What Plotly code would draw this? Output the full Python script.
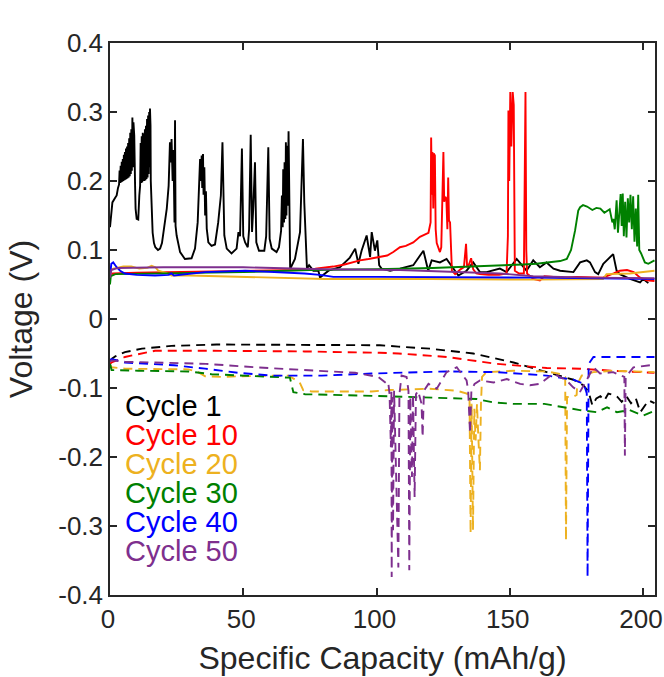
import plotly.graph_objects as go

# ---------------- data ----------------
cycles = ["Cycle 1", "Cycle 10", "Cycle 20", "Cycle 30", "Cycle 40", "Cycle 50"]
colors = ["#000000", "#FF0000", "#EDB120", "#008000", "#0000FF", "#7E2F8E"]

x_ticks = [0, 50, 100, 150, 200]
y_ticks = [-0.4, -0.3, -0.2, -0.1, 0, 0.1, 0.2, 0.3, 0.4]
y_tick_text = ["-0.4", "-0.3", "-0.2", "-0.1", "0", "0.1", "0.2", "0.3", "0.4"]

# Cycle 1 charge (solid)
c1_chg_x = [0, 0.4, 0.9, 2.0, 2.5, 3.0, 3.4, 3.6, 3.8, 4.0, 4.2, 4.4, 4.6, 4.8, 5.0, 5.2, 5.4, 5.6, 5.8,
            6.0, 6.2, 6.4, 6.6, 6.8, 7.0, 7.2, 7.4, 7.6, 7.8, 8.0, 8.2, 8.4, 8.6, 8.8, 9.1, 9.4, 9.6,
            10.0, 10.6, 11.0, 11.3, 11.5, 11.7, 11.9, 12.1, 12.3, 12.5, 12.7, 12.9, 13.1, 13.3, 13.5,
            13.7, 13.9, 14.1, 14.3, 14.5, 14.7, 14.9, 15.0, 15.2, 15.3, 15.5, 16.0, 16.5, 17.0, 18.0,
            18.8, 19.5, 20.3, 21.0, 21.3, 22.0, 22.5, 22.8, 23.1, 23.5, 23.8, 24.2, 24.4, 24.6, 25.0,
            26.3, 28.1, 30.6, 31.9, 32.9, 33.4, 33.8, 34.1, 34.4, 34.6, 34.9, 35.1, 35.4, 35.7, 36.0,
            36.3, 36.9, 38.1, 39.4, 40.6, 41.6, 42.2, 42.5, 42.9, 43.8, 45.6, 47.5, 48.2, 48.8, 49.5,
            50.0, 50.7, 51.7, 52.2, 52.8, 53.3, 53.8, 54.4, 54.9, 55.9, 57.9, 58.6, 59.4, 59.9, 60.7,
            62.5, 63.4, 64.2, 64.5, 64.8, 65.0, 65.3, 65.5, 65.8, 66.0, 66.2, 66.5, 66.7, 67.0, 67.3,
            67.6, 67.9, 69.4, 71.3, 71.9, 72.4, 72.9, 73.4, 73.9, 74.7, 76.3, 78.2, 78.8, 82.0, 86.3,
            90.0, 92.0, 93.2, 94.4, 96.3, 97.6, 98.2, 99.4, 100.3, 101.0, 101.9, 105.1, 108.8, 113.8,
            117.6, 119.4, 120.7, 123.8, 126.3, 128.8, 130.7, 133.8, 136.3, 138.8, 141.3, 146.3, 148.8,
            152.6, 156.3, 158.8, 161.3, 163.8, 166.4, 168.9, 173.9, 176.4, 178.9, 180.1, 182.0, 183.2,
            185.1, 188.8, 190.1, 191.3, 195.1, 198.9, 200.1, 202.0, 203.9]
c1_chg_y = [0.133, 0.150, 0.169, 0.176, 0.179, 0.190, 0.195, 0.215, 0.197, 0.222, 0.198, 0.228, 0.199,
            0.232, 0.200, 0.238, 0.201, 0.242, 0.202, 0.247, 0.203, 0.250, 0.204, 0.255, 0.205, 0.262,
            0.207, 0.270, 0.210, 0.275, 0.215, 0.292, 0.220, 0.285, 0.266, 0.196, 0.160, 0.145, 0.144,
            0.179, 0.193, 0.255, 0.197, 0.265, 0.198, 0.270, 0.200, 0.268, 0.200, 0.275, 0.201, 0.280,
            0.203, 0.290, 0.205, 0.295, 0.210, 0.300, 0.220, 0.305, 0.280, 0.200, 0.165, 0.125, 0.110,
            0.104, 0.100, 0.102, 0.110, 0.130, 0.150, 0.160, 0.193, 0.256, 0.227, 0.261, 0.200, 0.245,
            0.140, 0.288, 0.135, 0.121, 0.097, 0.087, 0.088, 0.102, 0.140, 0.189, 0.232, 0.200, 0.237,
            0.190, 0.239, 0.180, 0.220, 0.150, 0.185, 0.131, 0.111, 0.106, 0.108, 0.140, 0.179, 0.256,
            0.180, 0.121, 0.102, 0.095, 0.102, 0.126, 0.120, 0.247, 0.120, 0.111, 0.104, 0.130, 0.267,
            0.126, 0.165, 0.227, 0.111, 0.099, 0.099, 0.120, 0.249, 0.116, 0.102, 0.097, 0.104, 0.128,
            0.179, 0.133, 0.217, 0.140, 0.227, 0.145, 0.256, 0.150, 0.251, 0.164, 0.272, 0.140, 0.073,
            0.075, 0.087, 0.126, 0.203, 0.261, 0.169, 0.121, 0.073, 0.078, 0.070, 0.070, 0.060, 0.070,
            0.075, 0.089, 0.102, 0.080, 0.099, 0.121, 0.090, 0.126, 0.099, 0.114, 0.078, 0.073, 0.070,
            0.073, 0.078, 0.099, 0.070, 0.085, 0.082, 0.087, 0.073, 0.063, 0.070, 0.082, 0.068, 0.068,
            0.073, 0.068, 0.087, 0.070, 0.085, 0.075, 0.082, 0.073, 0.070, 0.068, 0.082, 0.085, 0.082,
            0.068, 0.065, 0.080, 0.094, 0.070, 0.065, 0.058, 0.053, 0.058, 0.052]

# Cycle 10 charge (solid)
c10_chg_x = [0, 1, 10, 30, 50, 65, 71.3, 77, 83.8, 88, 93.8, 97, 101.3, 104, 106.3, 108.8, 111, 113.8,
             116.3, 119.5, 120.3, 120.5, 120.8, 121.0, 121.3, 121.5, 121.9, 122.2, 122.6, 123.2, 123.8,
             124.3, 124.8, 125.1, 125.4, 125.8, 126.2, 126.6, 126.9, 127.2, 127.6, 128.0, 128.3, 129.5,
             131.5, 132.8, 133.3, 133.6, 134.0, 134.8, 135.5, 136.3, 137.5, 138.8, 142, 146, 148.8,
             149.3, 149.5, 149.8, 150.2, 150.6, 151.1, 151.5, 151.9, 153.5, 155.3, 155.7, 155.9, 156.2,
             156.5, 158.8, 161.3, 163, 166, 170, 175, 180, 185, 189, 191.3, 194, 196.5, 198.9, 201.4,
             204.3]
c10_chg_y = [0.062, 0.066, 0.067, 0.068, 0.069, 0.070, 0.071, 0.073, 0.076, 0.079, 0.085, 0.087, 0.090,
             0.092, 0.097, 0.104, 0.106, 0.111, 0.119, 0.125, 0.140, 0.263, 0.180, 0.242, 0.160, 0.240,
             0.237, 0.130, 0.110, 0.104, 0.097, 0.104, 0.200, 0.242, 0.170, 0.177, 0.175, 0.130, 0.205,
             0.143, 0.140, 0.090, 0.070, 0.065, 0.072, 0.075, 0.095, 0.109, 0.075, 0.080, 0.088, 0.072,
             0.066, 0.065, 0.064, 0.064, 0.066, 0.120, 0.302, 0.200, 0.329, 0.250, 0.329, 0.310, 0.070,
             0.066, 0.066, 0.200, 0.329, 0.100, 0.066, 0.058, 0.056, 0.062, 0.061, 0.060, 0.061, 0.061,
             0.060, 0.066, 0.070, 0.071, 0.068, 0.060, 0.056, 0.055]

# Cycle 20 charge (solid)
c20_chg_x = [0, 0.5, 1.3, 5, 8, 11, 14, 15.6, 17, 18.1, 21, 23.1, 30, 48.2, 80.7, 120, 160, 185, 186.3,
             195, 204.3]
c20_chg_y = [0.060, 0.072, 0.073, 0.076, 0.076, 0.073, 0.074, 0.077, 0.075, 0.070, 0.067, 0.063, 0.063,
             0.061, 0.058, 0.058, 0.057, 0.058, 0.065, 0.066, 0.070]

# Cycle 30 charge (solid)
c30_chg_x = [0, 0.3, 2, 20, 50, 75, 100, 121, 146.3, 155, 160, 168.9, 171.4, 173.0, 174.5, 175.7, 176.4,
             177.5, 179, 181, 182.5, 184, 185.5, 186.2, 187.5, 188.5, 188.9, 189.4, 190.1, 190.6, 191.0,
             191.6, 192.0, 192.4, 192.8, 193.3, 193.8, 194.3, 194.8, 195.3, 195.8, 196.3, 196.8, 197.3,
             197.8, 198.2, 198.6, 199.3, 200.7, 202, 204.3]
c30_chg_y = [0.050, 0.062, 0.065, 0.066, 0.068, 0.071, 0.072, 0.074, 0.077, 0.079, 0.080, 0.084, 0.087,
             0.100, 0.128, 0.157, 0.162, 0.165, 0.163, 0.158, 0.161, 0.160, 0.154, 0.156, 0.159, 0.140,
             0.145, 0.130, 0.172, 0.125, 0.150, 0.181, 0.135, 0.182, 0.120, 0.170, 0.118, 0.175, 0.140,
             0.180, 0.130, 0.178, 0.112, 0.160, 0.105, 0.180, 0.100, 0.095, 0.082, 0.080, 0.085]

# Cycle 40 charge (solid)
c40_chg_x = [0, 0.5, 1.2, 2.5, 3.8, 5.6, 10, 16.9, 22, 23, 24, 35.7, 50.7, 65.7, 73, 78.8, 83.8, 100,
             130, 160, 204.3]
c40_chg_y = [0.063, 0.080, 0.082, 0.075, 0.070, 0.066, 0.064, 0.063, 0.064, 0.066, 0.063, 0.068, 0.070,
             0.068, 0.066, 0.064, 0.061, 0.061, 0.061, 0.060, 0.058]

# Cycle 50 charge (solid)
c50_chg_x = [0, 0.5, 3, 20, 50, 72, 80, 108.8, 133.8, 146.3, 158.8, 180, 204.3]
c50_chg_y = [0.060, 0.071, 0.074, 0.075, 0.075, 0.073, 0.072, 0.071, 0.068, 0.066, 0.062, 0.060, 0.059]

# Cycle 1 discharge (dashed)
c1_dis_x = [0, 0.6, 2, 5.6, 12, 23.1, 40, 60.7, 80, 101.3, 108.2, 120.1, 136.3, 151.4, 163.9, 173.9,
            177.6, 179.5, 181, 182.5, 184, 185.5, 187, 188.8, 190.4, 192, 193.8, 195.5, 197.3, 199,
            200.8, 202.2, 204.3]
c1_dis_y = [-0.062, -0.058, -0.054, -0.048, -0.043, -0.039, -0.037, -0.037, -0.037, -0.038, -0.040,
            -0.043, -0.050, -0.063, -0.077, -0.088, -0.096, -0.105, -0.125, -0.115, -0.112, -0.118,
            -0.108, -0.110, -0.113, -0.120, -0.112, -0.122, -0.115, -0.135, -0.125, -0.118, -0.122]

# Cycle 10 discharge (dashed)
c10_dis_x = [0, 0.6, 5.6, 12, 16.9, 36, 73, 101.3, 108.2, 126.3, 145.1, 163.9, 176.3, 188.8, 204.3]
c10_dis_y = [-0.065, -0.063, -0.055, -0.050, -0.046, -0.046, -0.047, -0.049, -0.050, -0.055, -0.065,
             -0.071, -0.072, -0.075, -0.078]

# Cycle 20 discharge (dashed)
c20_dis_x = [0, 0.6, 5.6, 18, 29.4, 33.1, 35.7, 41.9, 48.2, 67, 71.2, 72.5, 75.6, 98.2, 104.5, 120,
             130.1, 133.9, 134.9, 135.3, 135.7, 136.2, 136.7, 137.2, 137.7, 138.2, 138.8, 139.2, 139.6,
             141.3, 151.4, 163.9, 169.5, 170.8, 171.1, 171.5, 173.6, 175.1, 175.3, 177, 181.4, 188.8,
             204.3]
c20_dis_y = [-0.066, -0.070, -0.072, -0.072, -0.073, -0.077, -0.083, -0.084, -0.083, -0.082, -0.092,
             -0.103, -0.105, -0.105, -0.103, -0.101, -0.104, -0.108, -0.113, -0.311, -0.123, -0.306,
             -0.130, -0.176, -0.123, -0.171, -0.219, -0.123, -0.084, -0.077, -0.075, -0.076, -0.080,
             -0.084, -0.321, -0.113, -0.113, -0.110, -0.095, -0.082, -0.077, -0.075, -0.077]

# Cycle 30 discharge (dashed)
c30_dis_x = [0, 0.6, 10.6, 29.4, 38.1, 48.2, 63.2, 67.5, 68.8, 73.2, 104.5, 137.6, 143.9, 151.4, 163,
             170.1, 176.3, 182.6, 186.5, 190.2, 195, 200.1, 204.3]
c30_dis_y = [-0.065, -0.074, -0.075, -0.076, -0.080, -0.082, -0.084, -0.085, -0.106, -0.109, -0.112,
             -0.116, -0.121, -0.123, -0.123, -0.128, -0.132, -0.135, -0.128, -0.135, -0.132, -0.140,
             -0.133]

# Cycle 40 discharge (dashed)
c40_dis_x = [0, 0.6, 5.6, 18, 24, 35.7, 48.2, 60.7, 79.4, 98.2, 108, 126.3, 145, 163.9, 173.9, 177.8,
             178.9, 179.2, 179.6, 181.4, 202.6, 204.3]
c40_dis_y = [-0.060, -0.058, -0.063, -0.065, -0.067, -0.072, -0.078, -0.082, -0.082, -0.079, -0.078,
             -0.076, -0.077, -0.082, -0.088, -0.094, -0.108, -0.374, -0.065, -0.055, -0.055, -0.055]

# Cycle 50 discharge (dashed)
c50_dis_x = [0, 0.6, 5.6, 18.8, 36, 54.5, 73.2, 92, 100.7, 103.9, 104.4, 104.9, 105.4, 105.6, 105.7,
             105.9, 106.2, 106.6, 108.2, 108.6, 109.4, 111.3, 112.0, 112.3, 112.7, 113.3, 113.7, 114.3,
             114.8, 115.6, 116.9, 117.3, 117.8, 119.5, 122.6, 126.3, 130.1, 133.8, 134.4, 135.1, 135.6,
             136.8, 138.8, 143.9, 148.9, 153.9, 157.6, 161.3, 166.3, 171.3, 173.8, 176.3, 178.8, 181.4,
             183.9, 188.8, 193.0, 193.2, 193.5, 196.4, 202.6, 204.3]
c50_dis_y = [-0.062, -0.060, -0.062, -0.063, -0.065, -0.070, -0.074, -0.078, -0.084, -0.094, -0.092,
             -0.109, -0.186, -0.104, -0.374, -0.113, -0.306, -0.104, -0.360, -0.109, -0.082, -0.084,
             -0.104, -0.364, -0.113, -0.229, -0.109, -0.258, -0.109, -0.104, -0.123, -0.171, -0.104,
             -0.094, -0.101, -0.077, -0.070, -0.089, -0.104, -0.166, -0.104, -0.094, -0.089, -0.092,
             -0.087, -0.094, -0.096, -0.094, -0.079, -0.089, -0.099, -0.106, -0.089, -0.070, -0.079,
             -0.077, -0.084, -0.198, -0.084, -0.070, -0.067, -0.068]

charge_x = [c1_chg_x, c10_chg_x, c20_chg_x, c30_chg_x, c40_chg_x, c50_chg_x]
charge_y = [c1_chg_y, c10_chg_y, c20_chg_y, c30_chg_y, c40_chg_y, c50_chg_y]
discharge_x = [c1_dis_x, c10_dis_x, c20_dis_x, c30_dis_x, c40_dis_x, c50_dis_x]
discharge_y = [c1_dis_y, c10_dis_y, c20_dis_y, c30_dis_y, c40_dis_y, c50_dis_y]

# ---------------- figure ----------------
fig = go.Figure()
for name, col, cx, cy, dx, dy in zip(cycles, colors, charge_x, charge_y, discharge_x, discharge_y):
    fig.add_trace(go.Scatter(x=cx, y=cy, mode="lines", name=name,
                             line=dict(color=col, width=1.9), showlegend=False))
    fig.add_trace(go.Scatter(x=dx, y=dy, mode="lines", name=name,
                             line=dict(color=col, width=1.9, dash="9px,6px"), showlegend=False))

FONT = "Liberation Sans, Arial, sans-serif"
AX = "#262626"

axis_common = dict(showline=True, linecolor=AX, linewidth=1.5, mirror="ticks",
                   ticks="inside", ticklen=7, tickwidth=1.5, tickcolor=AX,
                   showgrid=False, zeroline=False, automargin=False,
                   ticklabeloverflow="allow",
                   tickfont=dict(family=FONT, size=26, color=AX))

fig.update_layout(
    width=664, height=677,
    margin=dict(l=110, r=9, t=43, b=82),
    plot_bgcolor="white", paper_bgcolor="white",
    showlegend=False,
    font=dict(family=FONT, color=AX),
    xaxis=dict(range=[0, 204.5], tickvals=x_ticks, ticktext=[str(v) for v in x_ticks],
               ticklabelshift=-2,
               title=dict(text="Specific Capacity (mAh/g)", font=dict(family=FONT, size=32, color=AX),
                          standoff=14),
               **axis_common),
    yaxis=dict(range=[-0.4, 0.4], tickvals=y_ticks, ticktext=y_tick_text,
               title=dict(text="Voltage (V)", font=dict(family=FONT, size=32, color=AX), standoff=16),
               **axis_common),
)

# legend as coloured text (MATLAB text-only legend)
leg_top = 0.343
leg_step = 0.0528
for i, (name, col) in enumerate(zip(cycles, colors)):
    fig.add_annotation(xref="paper", yref="paper", x=0.024, y=leg_top - i * leg_step,
                       xanchor="left", yanchor="middle", text=name, showarrow=False,
                       font=dict(family=FONT, size=29, color=col))

fig.write_html("out.html", config={"displayModeBar": False},
               post_script="document.body.style.margin='0px';")
